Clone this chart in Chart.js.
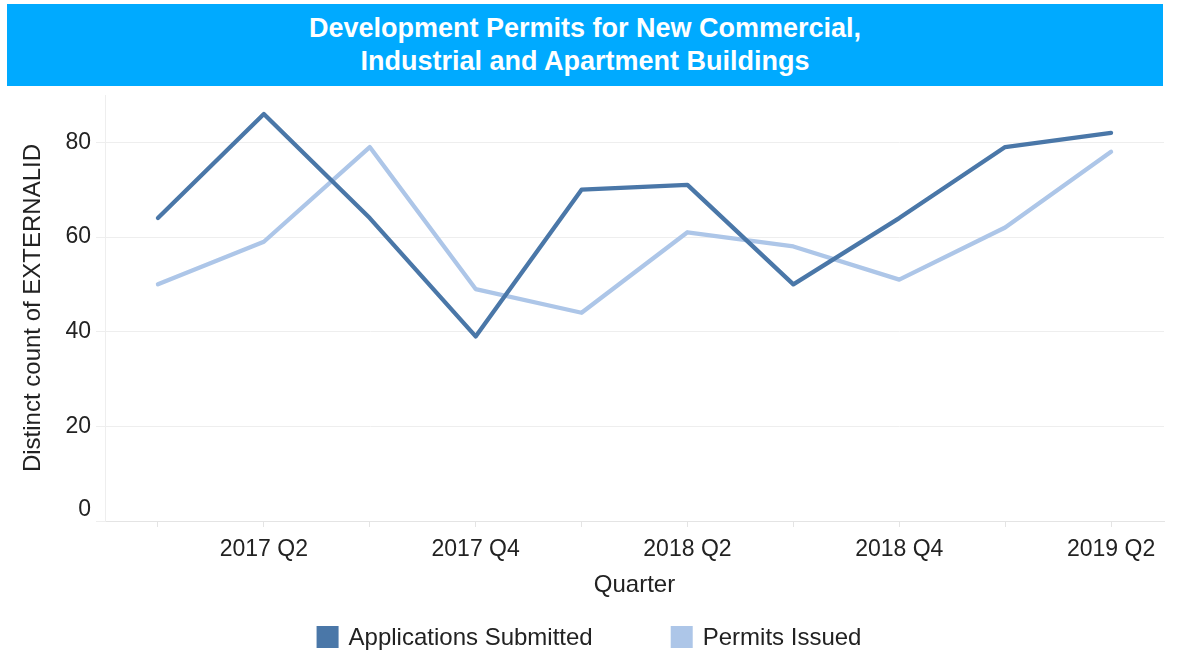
<!DOCTYPE html>
<html>
<head>
<meta charset="utf-8">
<script src="https://cdn.jsdelivr.net/npm/chart.js@4/dist/chart.umd.min.js"></script>
<style>
  html, body { margin: 0; padding: 0; background: #fff; }
  #wrap { position: relative; width: 1178px; height: 654px; overflow: hidden; }
  #banner {
    position: absolute; left: 7px; top: 4px; width: 1156px; height: 82px;
    background: #00AAFF; color: #fff;
    font-family: "Liberation Sans", Arial, sans-serif; font-weight: bold; font-size: 27px;
    line-height: 33px; text-align: center; box-sizing: border-box; padding-top: 8px;
    z-index: 2;
  }
  canvas { position: absolute; left: 0; top: 0; }
</style>
</head>
<body>
<div id="wrap">
  <div id="banner">Development Permits for New Commercial,<br>Industrial and Apartment Buildings</div>
  <canvas id="c" width="1178" height="654"></canvas>
</div>
<script>
const quarters = ["2017 Q1","2017 Q2","2017 Q3","2017 Q4","2018 Q1","2018 Q2","2018 Q3","2018 Q4","2019 Q1","2019 Q2"];
const applicationsSubmitted = [64, 86, 64, 39, 70, 71, 50, 64, 79, 82];
const permitsIssued = [50, 59, 79, 49, 44, 61, 58, 51, 62, 78];
const yTicks = [0, 20, 40, 60, 80];
const seriesNames = ["Applications Submitted", "Permits Issued"];
const seriesColors = ["#4A77A8", "#ADC6E8"];

const FONT = '"Liberation Sans", Arial, sans-serif';

const legendPlugin = {
  id: 'bottomLegend',
  afterDraw(chart) {
    const ctx = chart.ctx;
    ctx.save();
    ctx.font = '24px ' + FONT;
    ctx.textBaseline = 'middle';
    ctx.textAlign = 'left';
    const box = 22, gapText = 10, gapItems = 78, cy = 637;
    const items = chart.data.datasets.map(d => ({text: d.label, color: d.borderColor}));
    const widths = items.map(it => box + gapText + ctx.measureText(it.text).width);
    const total = widths.reduce((a, b) => a + b, 0) + gapItems * (items.length - 1);
    let x = (chart.width - total) / 2;
    items.forEach((it, i) => {
      ctx.fillStyle = it.color;
      ctx.fillRect(x, cy - box / 2, box, box);
      ctx.fillStyle = '#222';
      ctx.fillText(it.text, x + box + gapText, cy + 1);
      x += widths[i] + gapItems;
    });
    ctx.restore();
  }
};

new Chart(document.getElementById('c'), {
  type: 'line',
  data: {
    labels: quarters,
    datasets: [
      { label: seriesNames[0], data: applicationsSubmitted, borderColor: seriesColors[0], backgroundColor: seriesColors[0],
        borderWidth: 4.3, pointRadius: 0, tension: 0, borderCapStyle: 'round', borderJoinStyle: 'round' },
      { label: seriesNames[1], data: permitsIssued, borderColor: seriesColors[1], backgroundColor: seriesColors[1],
        borderWidth: 4.3, pointRadius: 0, tension: 0, borderCapStyle: 'round', borderJoinStyle: 'round' }
    ]
  },
  options: {
    responsive: false,
    animation: false,
    events: [],
    layout: { padding: { top: 95, right: 14, bottom: 54, left: 12 } },
    plugins: {
      legend: { display: false },
      title: { display: false },
      tooltip: { enabled: false }
    },
    scales: {
      x: {
        type: 'category',
        offset: true,
        afterFit(scale) { scale.height = 79; },
        grid: { drawOnChartArea: false, drawTicks: true, tickLength: 6, color: '#e4e4e4' },
        border: { display: true, color: '#e4e4e4', width: 1 },
        ticks: {
          autoSkip: false, maxRotation: 0, minRotation: 0, padding: 9,
          color: '#222', font: { family: FONT, size: 23 },
          callback(value, index) { return index % 2 === 1 ? quarters[index] : ''; }
        },
        title: { display: true, text: 'Quarter', color: '#222', font: { family: FONT, size: 24 }, padding: { top: 9, bottom: 0 } }
      },
      y: {
        min: 0, max: 90,
        afterFit(scale) { scale.width = 93; },
        afterBuildTicks(scale) { scale.ticks = yTicks.map(v => ({ value: v })); },
        grid: { color: '#eeeeee', tickLength: 9, lineWidth: 1 },
        border: { display: true, color: '#eeeeee' },
        ticks: {
          padding: 5, color: '#222', font: { family: FONT, size: 23, lineHeight: 1.0 },
          callback(value) { return value === 0 ? ['0', ''] : String(value); }
        },
        title: { display: true, text: 'Distinct count of EXTERNALID', color: '#222', font: { family: FONT, size: 24 }, padding: { top: 7, bottom: 0 } }
      }
    }
  },
  plugins: [legendPlugin]
});
</script>
</body>
</html>
